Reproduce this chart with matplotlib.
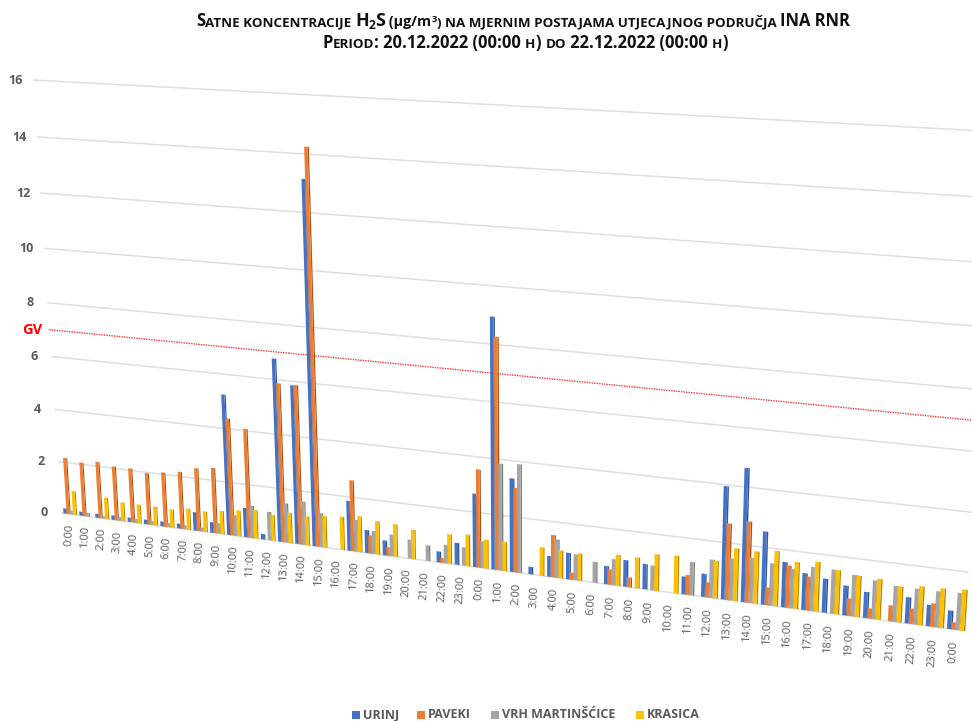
import numpy as np
import matplotlib
matplotlib.use("Agg")
import matplotlib.pyplot as plt
from matplotlib.transforms import Transform

nan = float("nan")
hours = [f"{h}:00" for h in range(24)]
labels = hours + hours + ["0:00"]
urinj = [.2,.15,.15,.17,.17,.17,.18,.18,.7,.4,5.25,1.1,.2,6.75,5.85,13.15,nan,1.85,.85,.55,nan,nan,.4,.8,2.67,8.95,3.37,.27,.75,.95,nan,.65,.95,.9,nan,.63,.82,3.95,4.65,2.55,1.58,1.28,1.18,1.03,.9,nan,.9,.73,.63]
paveki = [2.17,2.07,2.17,2.07,2.07,1.97,2.07,2.17,2.38,2.47,4.38,4.07,nan,5.87,5.87,14.25,nan,2.62,.67,.32,nan,nan,.18,nan,3.55,8.27,3.05,nan,1.52,.25,nan,.55,.35,nan,nan,.7,.53,2.68,2.83,.62,1.48,1.18,nan,.6,.35,.55,.53,.8,.25]
vrh = [.15,.15,.1,.15,.15,.15,.15,.15,.15,.4,.78,1.22,1.07,1.47,1.62,1.27,nan,1.18,.85,.8,.7,.57,.67,.67,.98,3.85,3.9,nan,1.38,.93,.75,.93,nan,.88,nan,1.18,1.35,1.48,1.58,1.48,1.38,1.53,1.53,1.43,1.33,1.23,1.23,1.23,1.27]
krasica = [.92,nan,.82,.72,.72,.72,.7,.8,.78,.88,.98,1.08,.98,1.13,1.08,1.18,1.23,1.33,1.23,1.2,1.08,nan,1.08,1.15,1.05,1.05,nan,1.03,1.0,.98,nan,1.1,1.1,1.3,1.33,nan,1.33,1.85,1.83,1.93,1.63,1.73,1.53,1.43,1.4,1.23,1.33,1.35,1.4]
series_names = ["URINJ", "PAVEKI", "VRH MARTINŠĆICE", "KRASICA"]
y_ticks = [0, 2, 4, 6, 8, 10, 12, 14, 16]
gv_value = 7

# Perspective of the 3-D chart: plot rectangle corners -> figure pixels
src = [(-.5, 0), (-.5, 16), (48.5, 0), (48.5, 16)]
dst = [(61, 513), (33, 80), (965, 631), (995, 131.6)]
A, b = [], []
for (x, y), (px, py) in zip(src, dst):
    A.append([x, y, 1, 0, 0, 0, -px * x, -px * y]); b.append(px)
    A.append([0, 0, 0, x, y, 1, -py * x, -py * y]); b.append(py)
H = np.append(np.linalg.solve(np.array(A, float), np.array(b, float)), 1).reshape(3, 3)


class Perspective(Transform):
    input_dims = output_dims = 2
    is_separable = False
    has_inverse = False

    def transform_non_affine(self, values):
        v = np.asarray(values, float)
        p = np.c_[v, np.ones(len(v))] @ H.T
        return p[:, :2] / p[:, 2:]


plt.rcParams["font.family"] = ["Open Sans", "DejaVu Sans"]
fig = plt.figure(figsize=(9.72, 7.21), dpi=100)
ax = fig.add_axes([0, 0, 1, 1])
ax.set_xlim(0, 972)
ax.set_ylim(721, 0)
ax.axis("off")
ax.autoscale(False)
T = Perspective() + ax.transData

for v in y_ticks:
    ax.plot([-.5, 48.5], [v, v], color="#DEDEDE", lw=1.1, transform=T, zorder=1, solid_capstyle="butt")
    ax.text(-1.55, v - .06, str(v), transform=T, ha="center", va="center", fontsize=9, fontweight="bold", color="#595959")
ax.plot([-.5, 48.5], [gv_value, gv_value], color="#FF3030", lw=1.0, ls=(0, (1, 0.8)), transform=T, zorder=2)
ax.text(-.95, gv_value - .04, "GV", transform=T, ha="right", va="center", fontsize=10.5, fontweight="bold", color="#FF0000")

xs = np.arange(len(labels))
cols = [("#4472C4", "#2F5597"), ("#ED7D31", "#A9551E"), ("#A5A5A5", "#7B7B7B"), ("#FFC000", "#B88A00")]
step, w, d, shift = 0.2, 0.19, 0.07, 0.05
for i, (vals, (c, dark)) in enumerate(zip([urinj, paveki, vrh, krasica], cols)):
    off = (i - 1.5) * step + shift
    ax.bar(xs + off + w / 2 + d / 2, vals, width=d, color=dark, lw=0, transform=T, zorder=3 + i * .1)
    ax.bar(xs + off, vals, width=w, color=c, lw=0, transform=T, zorder=3 + i * .1 + .05)

for x, lab in zip(xs, labels):
    ax.text(x, -.38, lab, transform=T, ha="center", va="top", rotation=87, fontsize=8, color="#595959")

ax.figure.canvas.draw()
r = fig.canvas.get_renderer()


def rich(center, ypix, pieces):
    objs = []
    for txt, size, dy in pieces:
        objs.append(ax.text(0, ypix + dy, txt, fontsize=size, fontweight="bold", color="#111111", va="baseline", ha="left"))
    ws = []
    for t in objs:
        s = t.get_text()
        t.set_text("|" + s + "|")
        a = t.get_window_extent(r).width
        t.set_text("||")
        e = t.get_window_extent(r).width
        t.set_text(s)
        ws.append(a - e)
    x = center - sum(ws) / 2
    for t, wd in zip(objs, ws):
        t.set_x(x)
        x += wd


B, S = 11.9, 9.65
rich(523, 26, [("S", B, 0), ("ATNE KONCENTRACIJE ", S, 0), ("H", B + 1, 0), ("2", S - 1, 3), ("S", B + 1, 0),
               (" (µg/m", S + .6, 0), ("3", S - 3, -4), (") NA MJERNIM POSTAJAMA UTJECAJNOG PODRUČJA ", S, 0), ("INA RNR", B, 0)])
rich(525, 48, [("P", B, 0), ("ERIOD", S, 0), (": 20.12.2022 (00:00 ", B, 0), ("H", S, 0), (") ", B, 0), ("DO", S, 0),
               (" 22.12.2022 (00:00 ", B, 0), ("H", S, 0), (")", B, 0)])

leg_x = [352, 417, 491, 636]
for name, (c, _), lx in zip(series_names, cols, leg_x):
    ax.add_patch(plt.Rectangle((lx, 711), 8, 8, color=c, lw=0))
    ax.text(lx + 11, 718.5, name, fontsize=9, fontweight="bold", color="#595959", va="baseline", ha="left")

fig.savefig("out.png", dpi=100)
